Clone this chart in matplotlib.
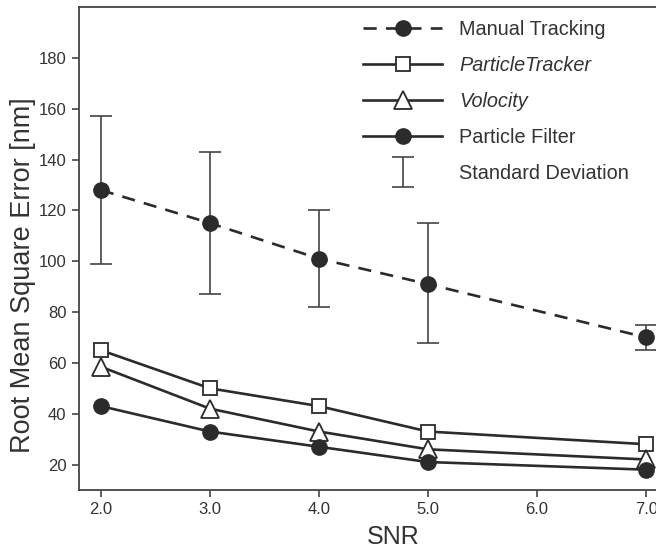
import matplotlib
matplotlib.use("Agg")
import matplotlib.pyplot as plt
from matplotlib.legend_handler import HandlerErrorbar

plt.rcParams['font.family'] = ['Liberation Sans', 'DejaVu Sans']

snr = [2.0, 3.0, 4.0, 5.0, 7.0]
manual = [128, 115, 101, 91, 70]
manual_hi = [157, 143, 120, 115, 75]
manual_lo = [99, 87, 82, 68, 65]
particle_tracker = [65, 50, 43, 33, 28]
volocity = [58.5, 42, 33, 26, 22]
particle_filter = [43, 33, 27, 21, 18]
xticks = [2.0, 3.0, 4.0, 5.0, 6.0, 7.0]
yticks = [20, 40, 60, 80, 100, 120, 140, 160, 180]

dark = '#2b2b2b'
textc = '#333333'

fig = plt.figure(figsize=(6.56, 5.48), dpi=100)
ax = fig.add_axes([79/656, 58/548, (656-79)/656, (490-7)/548])

err_lo = [m - l for m, l in zip(manual, manual_lo)]
err_hi = [h - m for m, h in zip(manual, manual_hi)]
eb = ax.errorbar(snr, manual, yerr=[err_lo, err_hi], fmt='none', ecolor='#444444',
                 elinewidth=1.2, capsize=8, capthick=1.2, zorder=2)

l1, = ax.plot(snr, manual, color=dark, lw=1.9, ls=(0, (5, 3.5)), marker='o', ms=11,
              mfc=dark, mec=dark, zorder=3)
l2, = ax.plot(snr, particle_tracker, color=dark, lw=1.9, marker='s', ms=10,
              mfc='white', mec=dark, mew=1.3, zorder=3)
l3, = ax.plot(snr, volocity, color=dark, lw=1.9, marker='^', ms=13,
              mfc='white', mec=dark, mew=1.3, zorder=3)
l4, = ax.plot(snr, particle_filter, color=dark, lw=1.9, marker='o', ms=11,
              mfc=dark, mec=dark, zorder=3)

ax.set_xlim(1.8, 7.09)
ax.set_ylim(10, 200)
ax.set_xticks(xticks)
ax.set_xticklabels([f"{v:.1f}" for v in xticks])
ax.set_yticks(yticks)
ax.tick_params(direction='out', length=5, width=1.2, color='#444444',
               labelsize=12, labelcolor=textc, pad=4)
for s in ['left', 'bottom', 'top']:
    ax.spines[s].set_color('#444444')
    ax.spines[s].set_linewidth(1.3)
ax.spines['right'].set_visible(False)

ax.set_xlabel('SNR', fontsize=18, color=textc)
ax.xaxis.set_label_coords((393-79)/577, -(537-490)/483, transform=ax.transAxes)
ax.xaxis.label.set_va('center')
ax.set_ylabel('Root Mean Square Error [nm]', fontsize=19.5, color=textc)
ax.yaxis.set_label_coords(-(79-23)/577, (490-275)/483, transform=ax.transAxes)
ax.yaxis.label.set_va('center')

handles = [l1, l2, l3, l4, eb]
labels = ['Manual Tracking', 'ParticleTracker', 'Volocity', 'Particle Filter',
          'Standard Deviation']
leg = fig.legend(handles, labels, loc='upper left',
                 bbox_to_anchor=(363/656, 1 - 20/548), frameon=False,
                 fontsize=14.3, handlelength=4.0, handletextpad=0.85,
                 labelspacing=0.86, borderpad=0, borderaxespad=0,
                 handler_map={type(eb): HandlerErrorbar(yerr_size=0.75)})
for t in leg.get_texts():
    t.set_color(textc)
leg.get_texts()[1].set_style('italic')
leg.get_texts()[2].set_style('italic')

fig.savefig('out.png', dpi=100)
